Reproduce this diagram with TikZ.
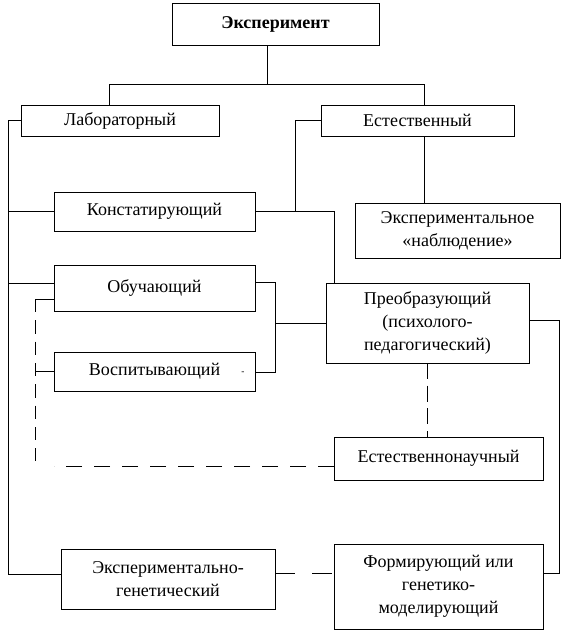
\documentclass[tikz,border=0pt]{standalone}
\usepackage{fontspec}
\setmainfont{Liberation Serif}
\usetikzlibrary{calc,positioning}

\begin{document}
\begin{tikzpicture}[x=0.75pt, y=-0.75pt
        , line width=0.6pt
        , every node/.style={ font=\fontsize{13.5pt}{17.25pt}\selectfont, inner sep=0pt, outer sep=0pt }
        , box/.style={ draw, align=center, minimum width=#1 }
        , gap line/.style={ dash pattern=on 12pt off 9pt }
        ]

        \useasboundingbox (0,0) rectangle (566,639);

        % Top of the tree and its two kinds.
        \node[box=155.25pt, minimum height=31.5pt] (exp) at (275.5,24) {\bfseries Эксперимент};
        \node[box=148.5pt, minimum height=23.25pt] (lab) at (120,120.5) {Лабораторный};
        \node[box=144.75pt, minimum height=23.25pt] (nat) at (417.5,120.5) {Естественный};

        \node[box=150.75pt, minimum height=29.25pt] (konst) at (154.5,211.5) {Констатирующий};
        \node[box=153.75pt, minimum height=41.25pt] (nabl) at (457.5,230.5) {Экспериментальное\\«наблюдение»};
        \node[box=150.75pt, minimum height=34.5pt] (obuch) at (154.5,288) {Обучающий};
        \node[box=150.75pt, minimum height=29.25pt] (vosp) at (154.5,371.5) {Воспитывающий};
        \node[font=\fontsize{7pt}{7pt}\selectfont] (vospmark) at (243,373) {-};
        \node[box=152.25pt, minimum height=60pt] (preob) at (427.5,323) {Преобразующий\\(психолого-\\педагогический)};
        \node[box=156.75pt, minimum height=32.25pt] (estn) at (438.5,458.5) {Естественнонаучный};
        \node[box=160.5pt, minimum height=45pt] (eg) at (168,579) {Экспериментально-\\генетический};
        \node[box=156.75pt, minimum height=63.75pt] (form) at (438.5,586.5) {Формирующий или\\генетико-\\моделирующий};

        \coordinate (split) at (267,84);
        \coordinate (ltop) at (109,84);
        \coordinate (rtop) at (424,84);
        \coordinate (spine) at (8,0);
        \coordinate (natdrop) at (295,0);
        \coordinate (preobin) at (334,0);
        \coordinate (brk) at (275,0);
        \coordinate (rail) at (559,0);
        \coordinate (dtop) at (35,299);
        \coordinate (dbot) at (35,461);
        \coordinate (formin) at ([yshift=10pt]form.east);
        \coordinate (egout) at ([yshift=4.5pt]eg.east);
        \coordinate (estnin) at ([yshift=-5.6pt]estn.west);

        % The first split.
        \draw (exp.south -| split) -- (split);
        \draw (ltop |- lab.north) -- (ltop) -- (rtop) -- (rtop |- nat.north);

        % Laboratory spine on the left.
        \draw (lab.west) -- (lab.west -| spine) |- ([yshift=3.75pt]eg.west);
        \draw (konst.west) -- (konst.west -| spine);
        \draw ([yshift=3.75pt]obuch.west) -- ++(-46,0);

        % Natural branch.
        \draw (nat.west) -| (natdrop |- konst.east);
        \draw (konst.east) -| (preobin |- preob.north);
        \draw (nat.south -| rtop) -- (rtop |- nabl.north);

        % Teaching and upbringing join into the transforming one.
        \draw ([yshift=4.5pt]obuch.east) -| ([yshift=-1pt]brk |- vosp.east) -- ([yshift=-1pt]vosp.east);
        \draw (brk |- preob.west) -- (preob.west);

        \draw ([yshift=-8.25pt]obuch.west) -- (dtop);
        \draw (vosp.west) -- (vosp.west -| dtop);
        \draw[dash pattern=on 10pt off 6pt] (dtop) -- (dbot);
        \draw[gap line] (estnin) -- ++(-280,0);
        \draw[dash pattern=on 12pt off 5pt] (preob.south) -- (preob.south |- estn.north);

        % Right rail and the genetic pair.
        \draw ([yshift=2pt]preob.east) -| (rail |- formin) -- (formin);
        \draw[dash pattern=on 15pt off 12.75pt] (egout) -- (egout -| form.west);

    \end{tikzpicture}
\end{document}
